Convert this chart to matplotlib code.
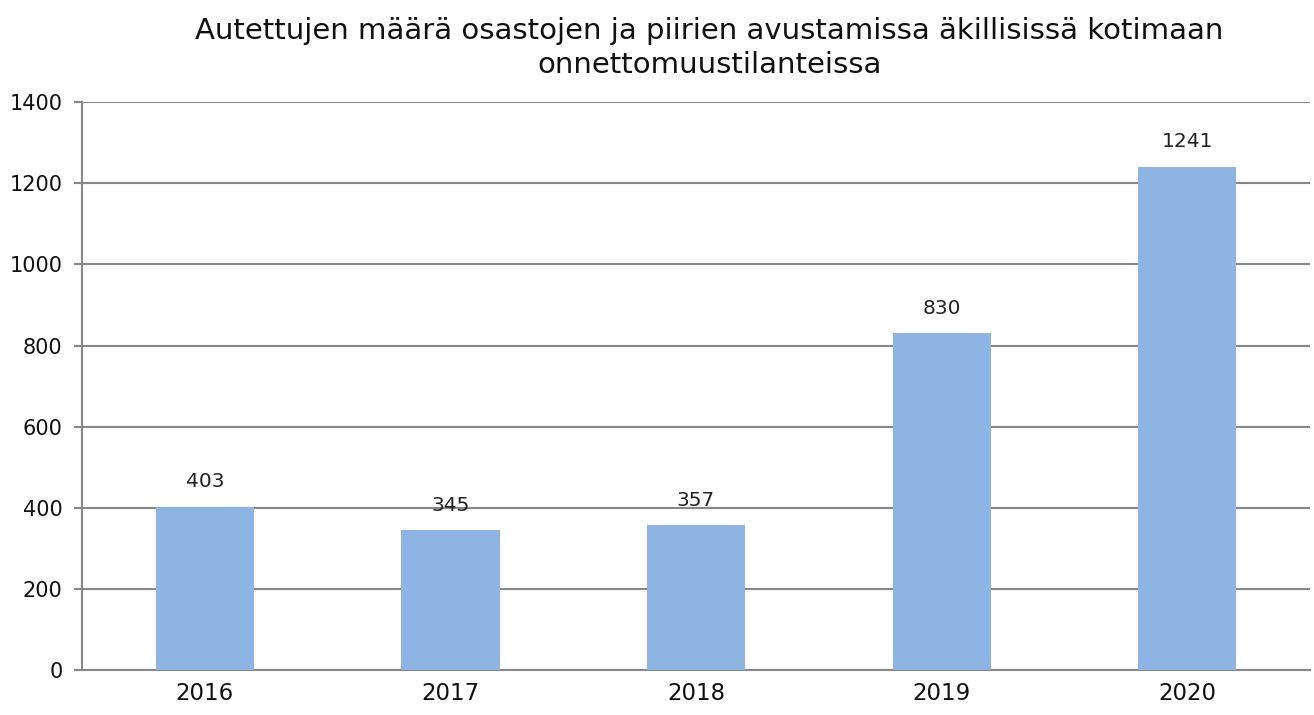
import numpy as np
import matplotlib
matplotlib.use("Agg")
import matplotlib.pyplot as plt

# data
years = ["2016", "2017", "2018", "2019", "2020"]
counts = [403, 345, 357, 830, 1241]

fig = plt.figure(figsize=(13.14, 7.15), dpi=100)
ax = fig.add_axes([0.0624, 0.063, 0.9346, 0.794])

x = np.arange(len(years))
ax.bar(x, counts, width=0.4, color="#8EB4E3", zorder=3)

# value labels above bars
for xi, v in zip(x, counts):
    ax.annotate(str(v), (xi, v), xytext=(0, 11), textcoords="offset points",
                ha="center", va="bottom", fontsize=14.5, color="#222222", zorder=4)

ax.set_xlim(-0.5, len(years) - 0.5)
ax.set_ylim(0, 1400)
ax.set_yticks(range(0, 1401, 200))
ax.set_xticks(x)
ax.set_xticklabels(years, fontsize=16.5, color="#111111")
ax.tick_params(axis="y", labelsize=15, labelcolor="#111111", length=6,
               color="#888888", width=1.5, pad=8)
ax.tick_params(axis="x", length=0, pad=9)
ax.grid(axis="y", color="#888888", linewidth=1.5, zorder=0)

for s in ["top", "right"]:
    ax.spines[s].set_visible(False)
for s in ["left", "bottom"]:
    ax.spines[s].set_color("#888888")
    ax.spines[s].set_linewidth(1.5)

fig.suptitle("Autettujen määrä osastojen ja piirien avustamissa äkillisissä kotimaan\nonnettomuustilanteissa",
             fontsize=21, x=0.54, y=0.976, va="top", linespacing=1.25, color="#111111")

plt.savefig("out.png", dpi=100)
